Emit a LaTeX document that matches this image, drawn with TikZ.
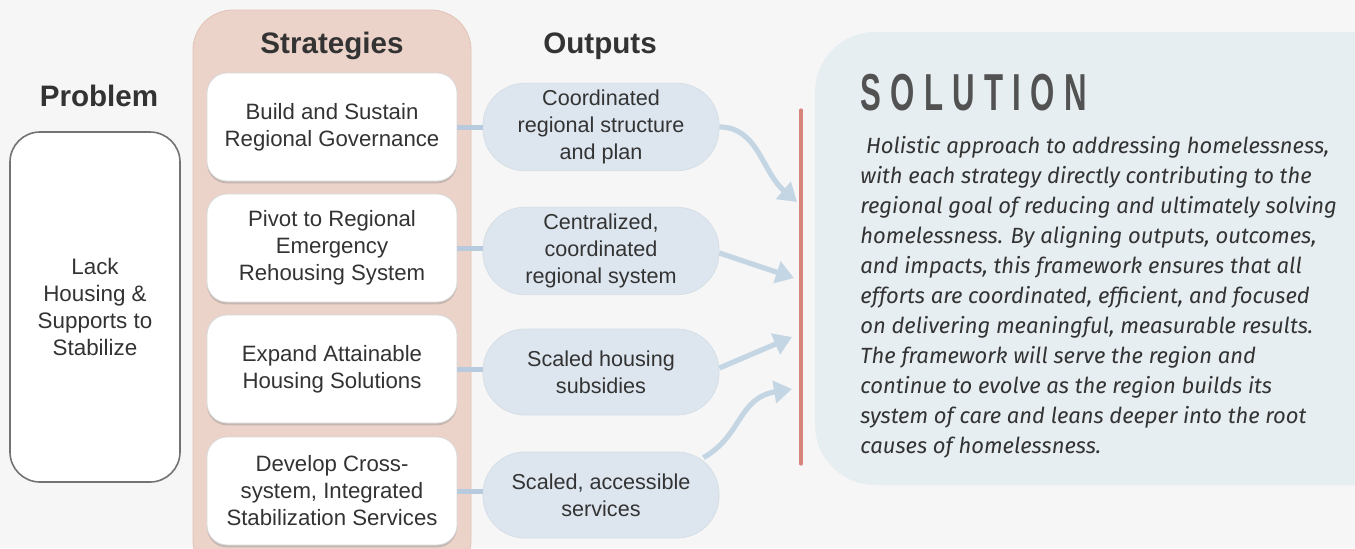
\documentclass[tikz,border=0pt]{standalone}
\usepackage{fontspec}
\usepackage{graphicx}
\setmainfont{Liberation Sans}
\newfontfamily\bodyfont{Fira Sans}
\newfontfamily\titlefont[LetterSpace=30]{Liberation Sans}
\usetikzlibrary{arrows.meta,shadows}

\definecolor{bgcol}{HTML}{F6F6F6}
\definecolor{stratpanel}{HTML}{EBD3CA}
\definecolor{stratrim}{HTML}{E2C2B6}
\definecolor{pillcol}{HTML}{DDE6EF}
\definecolor{linkcol}{HTML}{B8CBDE}
\definecolor{arrowcol}{HTML}{C4D5E4}
\definecolor{redline}{HTML}{D9837D}
\definecolor{solpanel}{HTML}{E7EEF1}
\definecolor{txt}{HTML}{333333}

\begin{document}
\begin{tikzpicture}[x=0.5pt, y={(0,-0.5pt)}, >={Triangle[width=11pt,length=9pt]}, text=txt]
    \tikzstyle{head}=[font=\fontsize{14.8}{16}\selectfont\bfseries]
    \tikzstyle{strat}=[rectangle, rounded corners=10pt, fill=white, draw=white!85!black,
        minimum width=125pt, minimum height=54pt, align=center,
        font=\fontsize{11.1}{13.5}\selectfont,
        drop shadow={opacity=0.35, shadow xshift=0pt, shadow yshift=-1.2pt}]
    \tikzstyle{pill}=[rectangle, rounded corners=21pt, fill=pillcol, draw=pillcol!92!gray,
        minimum width=118pt, minimum height=43pt, align=center,
        font=\fontsize{10.8}{13.5}\selectfont]
    \tikzstyle{link}=[draw=linkcol, line width=2.5pt]
    \tikzstyle{flow}=[draw=arrowcol, line width=2.6pt, ->]

    \useasboundingbox (0,0) rectangle (1355,548);
    \fill[bgcol] (0,0) rectangle (1355,548);

    % solution panel
    \fill[solpanel, rounded corners=30pt] (815,32) rectangle (1420,485);
    \draw[redline, line width=1.6pt, line cap=round] (801,110) -- (801,464);

    % strategies panel
    \fill[stratpanel, draw=stratrim, rounded corners=20pt] (193,10) rectangle (471,580);

    % headings
    \node[head] (hprob) at (99,96) {Problem};
    \node[head] (hstrat) at (332,46) {Strategies};
    \node[head] (hout) at (600,46) {Outputs};

    % problem
    \node[rectangle, rounded corners=15pt, fill=white, draw=gray!90!black, thick,
        minimum width=85pt, minimum height=175pt, align=center,
        font=\fontsize{11.2}{13.5}\selectfont] (prob) at (95,307)
        {Lack\\Housing \&\\Supports to\\Stabilize};

    % strategies
    \node[strat] (s1) at (332,127) {Build and Sustain\\Regional Governance};
    \node[strat] (s2) at (332,248) {Pivot to Regional\\Emergency\\Rehousing System};
    \node[strat] (s3) at (332,369) {Expand Attainable\\Housing Solutions};
    \node[strat] (s4) at (332,491) {Develop Cross-\\system, Integrated\\Stabilization Services};

    % outputs
    \node[pill] (o1) at (601,127) {Coordinated\\regional structure\\and plan};
    \node[pill] (o2) at (601,251) {Centralized,\\coordinated\\regional system};
    \node[pill] (o3) at (601,372) {Scaled housing\\subsidies};
    \node[pill] (o4) at (601,495) {Scaled, accessible\\services};

    \foreach \i in {1,...,4}
        \draw[link] (s\i.east) -- (s\i.east -| o\i.west);

    % arrow ends at the solution
    \coordinate (t1) at (797,202);
    \coordinate (t2) at (794,278);
    \coordinate (t3) at (792,337);
    \coordinate (t4) at (792,389);

    \draw[flow] (o1.east) .. controls (758,127) and (762,172) .. (t1);
    \draw[flow] ([yshift=-1pt]o2.east) -- (t2);
    \draw[flow] ([yshift=2pt]o3.east) -- (t3);
    \draw[flow] ([xshift=-8pt,yshift=-3pt]o4.north east) .. controls (742,436) and (738,398) .. (t4);

    % solution text
    \node[anchor=north west, inner sep=0pt, text=black!68] (stitle) at (860,74)
        {\scalebox{0.6}[1]{\titlefont\bfseries\fontsize{26}{30}\selectfont SOLUTION}};
    \node[anchor=north west, inner sep=0pt, align=left, text=txt,
        font=\bodyfont\itshape\fontsize{11}{15}\selectfont] (sbody) at (860,136)
        {\ Holistic approach to addressing homelessness,\\
         with each strategy directly contributing to the\\
         regional goal of reducing and ultimately solving\\
         homelessness. By aligning outputs, outcomes,\\
         and impacts, this framework ensures that all\\
         efforts are coordinated, efficient, and focused\\
         on delivering meaningful, measurable results.\\
         The framework will serve the region and\\
         continue to evolve as the region builds its\\
         system of care and leans deeper into the root\\
         causes of homelessness.};

\end{tikzpicture}
\end{document}
